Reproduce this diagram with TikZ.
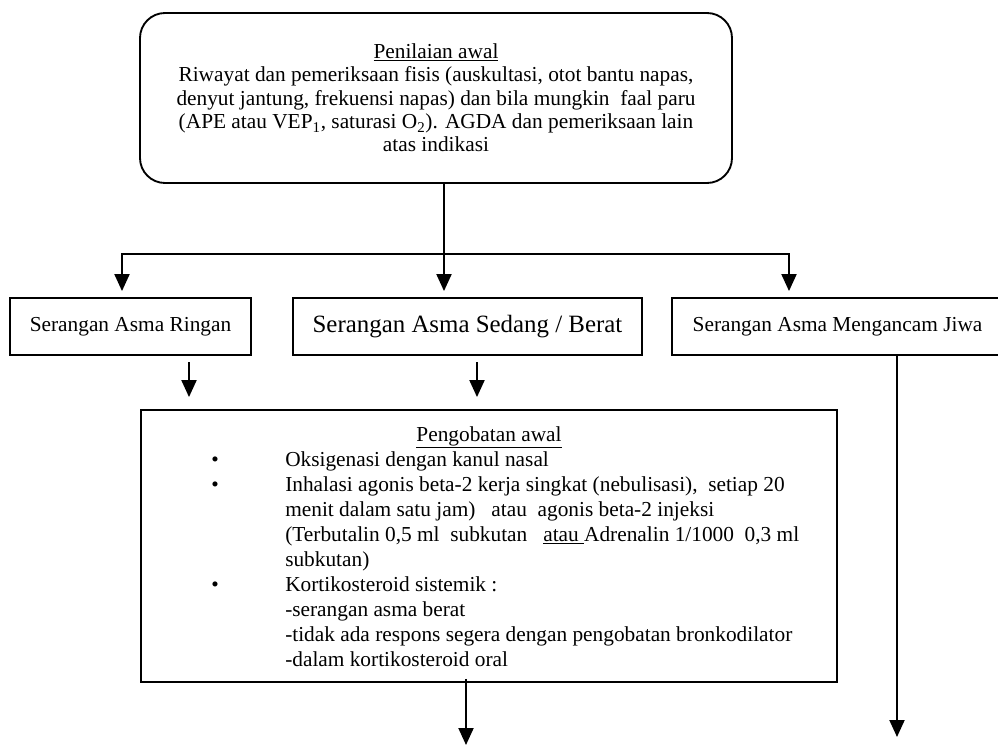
\documentclass[tikz,border=0pt]{standalone}
\usepackage{fontspec}
\setmainfont{Liberation Serif}
\usetikzlibrary{arrows.meta}
\begin{document}
\begin{tikzpicture}[x=0.75pt,y=-0.75pt,
  boxstyle/.style={draw, line width=1.4pt, inner sep=0pt},
  arr/.style={line width=1.5pt, -{Triangle[width=11.25pt,length=12.75pt]}},
  conn/.style={line width=1.5pt},
  txt/.style={font=\fontsize{16}{18.75}\selectfont}]
\useasboundingbox (0,0) rectangle (998,746);
\begin{scope}
\clip (0,0) rectangle (998,746);
% top box
\node[boxstyle, rounded corners=18.75pt, minimum width=444pt, minimum height=127.5pt,
      align=center, font=\fontsize{16}{17.5}\selectfont] (top) at (436,98)
  {\underline{Penilaian awal}\\
   Riwayat dan pemeriksaan fisis (auskultasi, otot bantu napas,\\
   denyut jantung, frekuensi napas) dan bila mungkin\ \ faal paru\\
   (APE atau VEP\textsubscript{1}, saturasi O\textsubscript{2}). AGDA dan pemeriksaan lain\\
   atas indikasi};
% three boxes
\node[boxstyle, minimum width=180.75pt, minimum height=42.75pt, txt] (b1) at (130.5,326.5) {Serangan Asma Ringan};
\node[boxstyle, minimum width=261.75pt, minimum height=42.75pt, font=\fontsize{18.67}{21}\selectfont] (b2) at (467.5,326.5) {Serangan Asma Sedang / Berat};
\node[boxstyle, minimum width=248.25pt, minimum height=42.75pt, txt] (b3) at (837.5,326.5) {Serangan Asma Mengancam Jiwa};
% treatment box
\node[boxstyle, minimum width=522pt, minimum height=204pt] (treat) at (489,546) {};
\node[txt, anchor=base, inner sep=0pt] (treatT) at (489,441) {\underline{Pengobatan awal}};
\node[txt, anchor=base west, inner sep=0pt] (treatL) at (211,466)
 {\begin{tabular}[t]{@{}p{55.5pt}@{}l@{}}
  \textbullet & Oksigenasi dengan kanul nasal\\
  \textbullet & Inhalasi agonis beta-2 kerja singkat (nebulisasi),\ \ setiap 20\\
   & menit dalam satu jam)\ \ \ atau\ \ agonis beta-2 injeksi\\
   & (Terbutalin 0,5 ml\ \ subkutan\ \ \ \underline{atau\ }Adrenalin 1/1000\ \ 0,3 ml\\
   & subkutan)\\
  \textbullet & Kortikosteroid sistemik :\\
   & -serangan asma berat\\
   & -tidak ada respons segera dengan pengobatan bronkodilator\\
   & -dalam kortikosteroid oral
  \end{tabular}};
% connectors
\coordinate (jL) at (122,254);
\coordinate (jM) at (444,254);
\coordinate (jR) at (789,254);
\draw[arr, shorten >=4.5pt] (jM) -| (jL |- b1.north);
\draw[arr, shorten >=4.5pt] (jM) -| (jR |- b3.north);
\draw[arr, shorten >=4.5pt] (top.south -| jM) -- (jM |- b2.north);
\coordinate (s1) at (189,362);
\coordinate (s2) at (477,362);
\draw[arr, shorten >=9pt] (s1) -- (treat.north -| s1);
\draw[arr, shorten >=9pt] (s2) -- (treat.north -| s2);
\coordinate (e3) at (897,737);
\coordinate (e4) at (466,745);
\draw[arr] (b3.south -| e3) -- (e3);
\draw[arr, shorten <=-3pt] (treat.south -| e4) -- (e4);
\end{scope}
\end{tikzpicture}
\end{document}
